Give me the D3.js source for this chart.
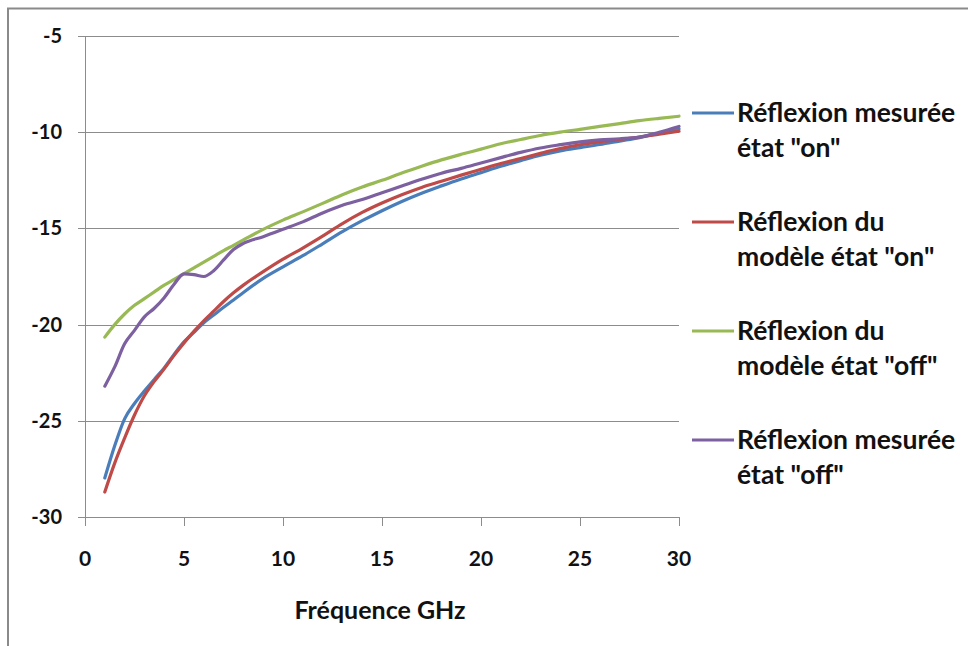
<!DOCTYPE html>
<html><head><meta charset="utf-8">
<script src="https://cdn.jsdelivr.net/npm/d3@7"></script>
<style>body{margin:0;background:#fff}svg{display:block}</style>
</head><body>
<svg id="c" width="968" height="646"></svg>
<script>
const freq = [1,1.5,2,2.5,3,3.5,4,4.5,5,5.5,6,6.5,7,7.5,8,9,10,11,12,13,14,15,16,17,18,19,20,21,22,23,24,25,26,27,28,29,30];
const mesureOn = [-27.97,-26.3,-24.9,-24.1,-23.45,-22.85,-22.25,-21.55,-20.9,-20.4,-19.9,-19.5,-19.1,-18.72,-18.33,-17.6,-17.0,-16.42,-15.8,-15.17,-14.6,-14.08,-13.6,-13.17,-12.79,-12.43,-12.1,-11.77,-11.48,-11.2,-10.97,-10.8,-10.64,-10.46,-10.28,-10.05,-9.83];
const modeleOn = [-28.7,-27.2,-25.9,-24.7,-23.7,-22.95,-22.3,-21.6,-20.95,-20.35,-19.8,-19.3,-18.8,-18.35,-17.95,-17.25,-16.6,-16.02,-15.4,-14.75,-14.17,-13.68,-13.25,-12.87,-12.55,-12.23,-11.93,-11.63,-11.37,-11.1,-10.85,-10.65,-10.5,-10.38,-10.25,-10.1,-9.95];
const modeleOff = [-20.65,-20.0,-19.45,-19.0,-18.65,-18.3,-17.95,-17.65,-17.35,-17.05,-16.75,-16.45,-16.15,-15.88,-15.6,-15.05,-14.57,-14.14,-13.7,-13.25,-12.85,-12.5,-12.12,-11.77,-11.44,-11.15,-10.88,-10.6,-10.38,-10.17,-10.0,-9.85,-9.7,-9.55,-9.4,-9.28,-9.17];
const mesureOff = [-23.2,-22.2,-21.0,-20.3,-19.6,-19.15,-18.6,-17.9,-17.36,-17.4,-17.5,-17.2,-16.64,-16.1,-15.78,-15.43,-15.05,-14.66,-14.2,-13.8,-13.5,-13.15,-12.8,-12.45,-12.13,-11.88,-11.6,-11.32,-11.05,-10.82,-10.65,-10.5,-10.4,-10.34,-10.25,-10.0,-9.7];
const seriesNames = [["Réflexion mesurée","état \"on\""],["Réflexion du","modèle état \"on\""],["Réflexion du","modèle état \"off\""],["Réflexion mesurée","état \"off\""]];
const seriesColors = ["#4a7ebb","#be4b48","#98b954","#7d60a0"];
const xTicks = [0,5,10,15,20,25,30];
const yTicks = [-5,-10,-15,-20,-25,-30];
const xTitle = "Fréquence GHz";

const seriesValues = [mesureOn, modeleOn, modeleOff, mesureOff];
const svg = d3.select("#c");
const font = "Lato, 'Open Sans', sans-serif";

// outer frame (top and left edges visible)
svg.append("rect").attr("x",8).attr("y",8.5).attr("width",1000).attr("height",700)
  .attr("fill","none").attr("stroke","#8a8a8a").attr("stroke-width",2);

const x = d3.scaleLinear().domain([0,30]).range([85,679]);
const y = d3.scaleLinear().domain([-30,-5]).range([517,36]);

// gridlines
const g = svg.append("g");
g.selectAll("line.grid").data(yTicks).join("line")
  .attr("x1",78).attr("x2",679)
  .attr("y1",d=>Math.round(y(d))+0.5).attr("y2",d=>Math.round(y(d))+0.5)
  .attr("stroke","#8c8c8c").attr("stroke-width",1);
// y axis line
g.append("line").attr("x1",85.5).attr("x2",85.5).attr("y1",y(-5)).attr("y2",y(-30)+9)
  .attr("stroke","#8c8c8c");
// x ticks
g.selectAll("line.xt").data(xTicks).join("line")
  .attr("x1",d=>Math.round(x(d))+0.5).attr("x2",d=>Math.round(x(d))+0.5)
  .attr("y1",y(-30)).attr("y2",y(-30)+9).attr("stroke","#8c8c8c");

// y tick labels
g.selectAll("text.yl").data(yTicks).join("text")
  .attr("x",62).attr("y",d=>y(d)+7).attr("text-anchor","end")
  .attr("font-family",font).attr("font-weight","bold").attr("font-size",20)
  .attr("fill","#111").text(d=>d);
// x tick labels
g.selectAll("text.xl").data(xTicks).join("text")
  .attr("x",d=>x(d)).attr("y",566).attr("text-anchor","middle")
  .attr("font-family",font).attr("font-weight","bold").attr("font-size",21)
  .attr("fill","#111").text(d=>d);
// x title
g.append("text").attr("x",380).attr("y",619).attr("text-anchor","middle")
  .attr("font-family",font).attr("font-weight","bold").attr("font-size",25)
  .attr("fill","#111").text(xTitle);

// series
const line = d3.line().x(d=>x(d[0])).y(d=>y(d[1])).curve(d3.curveMonotoneX);
seriesValues.forEach((vals,i)=>{
  svg.append("path").datum(freq.map((f,j)=>[f,vals[j]]))
    .attr("d",line).attr("fill","none").attr("stroke",seriesColors[i])
    .attr("stroke-width",3.2).attr("stroke-linejoin","round").attr("stroke-linecap","round");
});

// legend
const leg = svg.append("g");
seriesNames.forEach((lines,i)=>{
  const cy = 113 + i*109;
  leg.append("line").attr("x1",692).attr("x2",734).attr("y1",cy).attr("y2",cy)
    .attr("stroke",seriesColors[i]).attr("stroke-width",3.2);
  const t = leg.append("text").attr("x",737).attr("y",cy+9)
    .attr("font-family",font).attr("font-weight","bold").attr("font-size",26.5).attr("fill","#111");
  lines.forEach((s,k)=>{
    t.append("tspan").attr("x",737).attr("dy",k===0?0:35).text(s);
  });
});
</script>
</body></html>
